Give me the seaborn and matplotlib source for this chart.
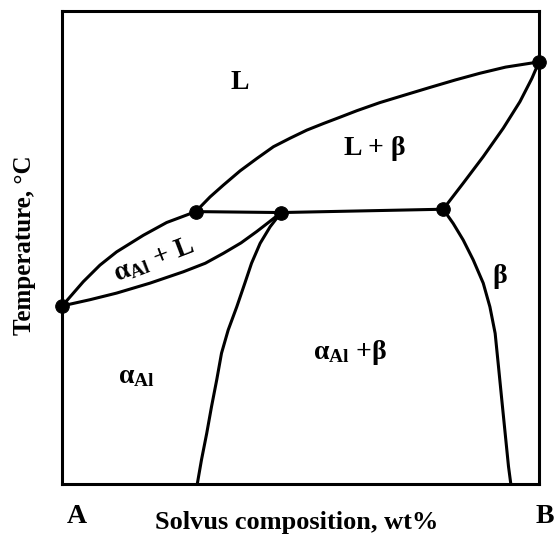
import matplotlib
matplotlib.use("Agg")
import matplotlib.pyplot as plt
import seaborn as sns
import pandas as pd

# ---- data (composition wt% of B, temperature as % of axis height) ----
liq_left_x = [0, 4.4, 7.9, 11.4, 17.0, 21.9, 28.0]
liq_left_y = [37.7, 42.8, 46.3, 49.1, 52.6, 55.3, 57.6]

sol_left_x = [0, 5.8, 11.4, 18.4, 25.4, 30.0, 33.8, 37.5, 40.8, 43.5, 45.9]
sol_left_y = [37.7, 39.0, 40.4, 42.5, 44.9, 46.7, 48.8, 51.0, 53.4, 55.5, 57.4]

liq_right_x = [28.0, 31.0, 33.8, 37.3, 40.8, 44.3, 47.8, 51.3, 54.8, 58.2,
               61.8, 66.6, 71.5, 77.1, 82.5, 87.6, 93.0, 100]
liq_right_y = [57.6, 60.7, 63.2, 66.2, 68.8, 71.3, 73.1, 74.8, 76.2, 77.5,
               78.9, 80.6, 82.1, 83.8, 85.4, 86.8, 88.1, 89.2]

sol_beta_x = [79.9, 84.1, 88.3, 92.5, 96.0, 98.5, 100]
sol_beta_y = [58.1, 63.6, 69.2, 75.2, 80.8, 85.7, 89.2]

eut_x = [28.0, 45.9, 79.9]
eut_y = [57.6, 57.4, 58.1]

solvus_a_x = [45.9, 43.6, 41.5, 39.7, 38.3, 36.6, 34.8, 33.4, 32.4, 31.3, 30.3, 29.2, 28.3]
solvus_a_y = [57.4, 54.4, 50.9, 46.7, 42.5, 37.5, 32.6, 27.7, 22.1, 16.4, 10.8, 5.2, 0]

solvus_b_x = [79.9, 82.0, 84.1, 86.2, 88.3, 89.7, 90.8, 91.5, 92.2, 92.9, 93.6, 94.1]
solvus_b_y = [58.1, 55.1, 51.6, 47.4, 42.5, 37.5, 31.9, 24.9, 17.8, 10.8, 3.8, 0]

dot_x = [0, 28.0, 45.9, 79.9, 100]
dot_y = [37.7, 57.6, 57.4, 58.1, 89.2]

curves = {
    "liq_left": (liq_left_x, liq_left_y),
    "sol_left": (sol_left_x, sol_left_y),
    "liq_right": (liq_right_x, liq_right_y),
    "sol_beta": (sol_beta_x, sol_beta_y),
    "eutectic": (eut_x, eut_y),
    "solvus_a": (solvus_a_x, solvus_a_y),
    "solvus_b": (solvus_b_x, solvus_b_y),
}
frames = []
for name, (xs, ys) in curves.items():
    frames.append(pd.DataFrame({"x": xs, "y": ys, "curve": name}))
df = pd.concat(frames, ignore_index=True)
dots = pd.DataFrame({"x": dot_x, "y": dot_y})

# ---- style ----
sns.set_style("white")
plt.rcParams["font.family"] = ["Liberation Serif", "DejaVu Serif"]
plt.rcParams["font.weight"] = "bold"
plt.rcParams["text.color"] = "black"
plt.rcParams["axes.labelcolor"] = "black"
plt.rcParams["mathtext.fontset"] = "custom"
plt.rcParams["mathtext.rm"] = "Liberation Serif:bold"
plt.rcParams["mathtext.it"] = "Liberation Serif:bold"
plt.rcParams["mathtext.bf"] = "Liberation Serif:bold"

fig = plt.figure(figsize=(5.57, 5.36), dpi=100)
ax = fig.add_axes([0.1118, 0.0961, 0.8559, 0.8839])

for name in curves:
    sub = df[df["curve"] == name]
    sns.lineplot(data=sub, x="x", y="y", sort=False, estimator=None,
                 color="black", linewidth=2.2, ax=ax)
sns.scatterplot(data=dots, x="x", y="y", color="black", s=95,
                edgecolor="black", zorder=5, clip_on=False, ax=ax)

ax.set_xlim(0, 100)
ax.set_ylim(0, 100)
ax.set_xticks([])
ax.set_yticks([])
for sp in ax.spines.values():
    sp.set_visible(True)
    sp.set_color("black")
    sp.set_linewidth(2.2)

fs = 20
ax.text(37.3, 84.9, "L", fontsize=fs, fontweight="bold", ha="center", va="center")
ax.text(65.6, 71.0, "L + β", fontsize=fs, fontweight="bold", ha="center", va="center")
ax.text(19.3, 47.4, r"$\alpha_{Al}$ + L", fontsize=fs, fontweight="bold",
        ha="center", va="center", rotation=21, rotation_mode="anchor")
ax.text(91.8, 43.9, "β", fontsize=fs, fontweight="bold", ha="center", va="center")
ax.text(60.4, 27.8, r"$\alpha_{Al}$ +β", fontsize=fs, fontweight="bold", ha="center", va="center")
ax.text(15.6, 22.8, r"$\alpha_{Al}$", fontsize=fs, fontweight="bold", ha="center", va="center")

ax.text(3.1, -6.8, "A", fontsize=20, fontweight="bold", ha="center", va="center", clip_on=False)
ax.text(101.3, -6.8, "B", fontsize=20, fontweight="bold", ha="center", va="center", clip_on=False)

ax.set_xlabel("Solvus composition, wt%", fontsize=19, fontweight="bold")
ax.xaxis.set_label_coords(0.492, -0.081)
ax.xaxis.label.set_verticalalignment("center")
ax.set_ylabel("Temperature, °C", fontsize=18, fontweight="bold")
ax.yaxis.set_label_coords(-0.080, 0.505)
ax.yaxis.label.set_verticalalignment("center")

fig.savefig("out.png", dpi=100, facecolor="white")
